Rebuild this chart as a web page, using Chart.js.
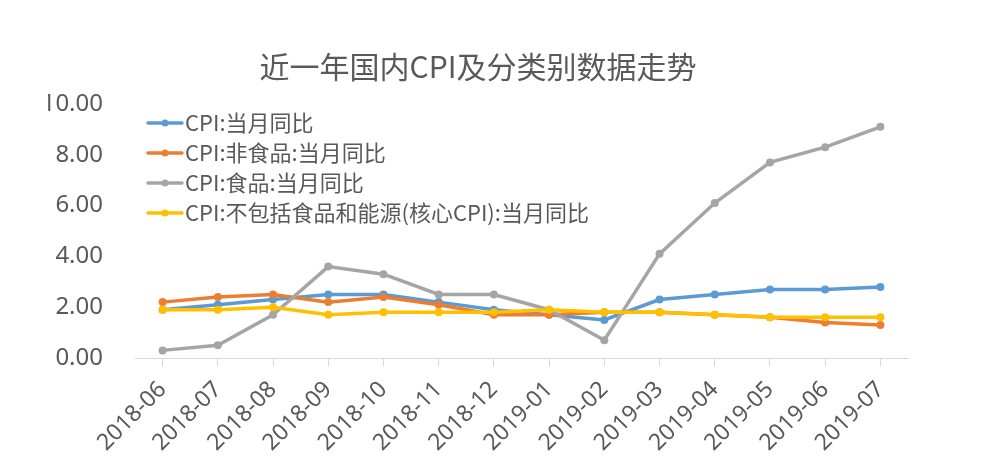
<!DOCTYPE html>
<html>
<head>
<meta charset="utf-8">
<script src="https://cdn.jsdelivr.net/npm/chart.js@4.4.3/dist/chart.umd.min.js"></script>
<style>
  html, body { margin: 0; padding: 0; background: #fff; }
  #wrap { width: 988px; height: 469px; }
</style>
</head>
<body>
<div id="wrap"><canvas id="cpi-chart" width="988" height="469"></canvas></div>
<script>
// chart data

const months = ['2018-06', '2018-07', '2018-08', '2018-09', '2018-10', '2018-11', '2018-12',
    '2019-01', '2019-02', '2019-03', '2019-04', '2019-05', '2019-06', '2019-07'];
const cpiTotal = [1.9, 2.1, 2.3, 2.5, 2.5, 2.2, 1.9, 1.7, 1.5, 2.3, 2.5, 2.7, 2.7, 2.8];
const cpiNonFood = [2.2, 2.4, 2.5, 2.2, 2.4, 2.1, 1.7, 1.7, 1.8, 1.8, 1.7, 1.6, 1.4, 1.3];
const cpiFood = [0.3, 0.5, 1.7, 3.6, 3.3, 2.5, 2.5, 1.9, 0.7, 4.1, 6.1, 7.7, 8.3, 9.1];
const cpiCore = [1.9, 1.9, 2.0, 1.7, 1.8, 1.8, 1.8, 1.9, 1.8, 1.8, 1.7, 1.6, 1.6, 1.6];
const seriesNames = ['CPI:当月同比', 'CPI:非食品:当月同比', 'CPI:食品:当月同比', 'CPI:不包括食品和能源(核心CPI):当月同比'];
const seriesColors = ['#5b9bd5', '#ed7d31', '#a5a5a5', '#ffc000'];
const yTicks = [0, 2, 4, 6, 8, 10];

const textColor = '#595959';
const latin = '"Noto Sans", "Noto Sans CJK SC", sans-serif';
const cjk = '"Noto Sans CJK SC", "Noto Sans", sans-serif';

// legend sits inside the plot area, top left, like the excel original
const insideLegend = {
    id: 'insideLegend',
    afterDraw(chart) {
        const { ctx, chartArea } = chart;
        const x0 = chartArea.left + 13;
        const y0 = chartArea.top + 19;
        ctx.save();
        ctx.font = '22px ' + cjk;
        ctx.textBaseline = 'middle';
        seriesNames.forEach((name, i) => {
            const y = y0 + i * 30;
            ctx.strokeStyle = seriesColors[i];
            ctx.lineWidth = 3.5;
            ctx.lineCap = 'round';
            ctx.beginPath();
            ctx.moveTo(x0, y);
            ctx.lineTo(x0 + 34, y);
            ctx.stroke();
            ctx.fillStyle = seriesColors[i];
            ctx.beginPath();
            ctx.arc(x0 + 17, y, 3.5, 0, Math.PI * 2);
            ctx.fill();
            ctx.fillStyle = textColor;
            ctx.fillText(name, x0 + 37, y);
        });
        ctx.restore();
    }
};

function makeDataset(i, values, order) {
    return {
        label: seriesNames[i],
        data: values,
        borderColor: seriesColors[i],
        backgroundColor: seriesColors[i],
        borderWidth: 3.5,
        pointRadius: 4,
        pointHoverRadius: 4,
        pointBorderWidth: 0,
        tension: 0,
        order: order,
    };
}

function main() {
    const ctx = document.getElementById('cpi-chart');
    new Chart(ctx, {
        type: 'line',
        data: {
            labels: months,
            // excel draws the core series last, so it ends up on top
            datasets: [
                makeDataset(0, cpiTotal, 4),
                makeDataset(1, cpiNonFood, 3),
                makeDataset(2, cpiFood, 2),
                makeDataset(3, cpiCore, 1),
            ],
        },
        options: {
            responsive: false,
            animation: false,
            devicePixelRatio: 1,
            layout: { padding: { left: 48, right: 80, top: 0, bottom: 0 } },
            scales: {
                x: {
                    offset: true,
                    grid: {
                        display: true,
                        drawOnChartArea: false,
                        drawTicks: true,
                        tickLength: 8,
                        color: '#d9d9d9',
                    },
                    border: { display: true, color: '#d9d9d9', width: 1 },
                    ticks: {
                        autoSkip: false,
                        minRotation: 45,
                        maxRotation: 45,
                        padding: 10,
                        color: textColor,
                        font: { family: latin, size: 23 },
                    },
                    afterFit: (scale) => { scale.height = 111; },
                },
                y: {
                    min: yTicks[0],
                    max: yTicks[yTicks.length - 1],
                    grid: { display: false, drawTicks: false },
                    border: { display: false },
                    afterBuildTicks: (scale) => {
                        scale.ticks = yTicks.map((v) => ({ value: v }));
                    },
                    ticks: {
                        padding: 32,
                        color: textColor,
                        font: { family: latin, size: 24 },
                        callback: (value) => Number(value).toFixed(2),
                    },
                    afterFit: (scale) => { scale.width = 87; },
                },
            },
            plugins: {
                legend: { display: false },
                tooltip: { enabled: false },
                title: {
                    display: true,
                    text: '近一年国内CPI及分类别数据走势',
                    color: textColor,
                    font: { family: cjk, size: 30, weight: 'normal', lineHeight: 1.2 },
                    padding: { top: 49, bottom: 19 },
                },
            },
        },
        plugins: [insideLegend],
    });
}

main();
</script>
</body>
</html>
